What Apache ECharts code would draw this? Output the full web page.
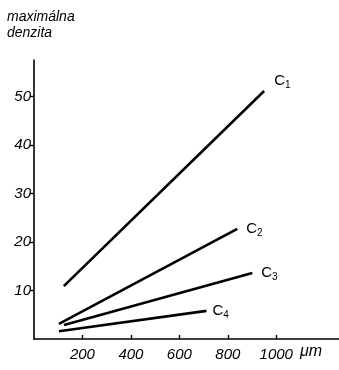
<!DOCTYPE html>
<html>
<head>
<meta charset="utf-8">
<script src="https://cdn.jsdelivr.net/npm/echarts@6/dist/echarts.min.js"></script>
<style>
  html, body { margin: 0; padding: 0; background: #fff; }
  #chart { width: 339px; height: 370px; }
</style>
</head>
<body>
<div id="chart"></div>
<script>
// values (x in µm, y = max. density)
const c1X = [123, 950];
const c1Y = [10.9, 51.1];
const c2X = [103, 839];
const c2Y = [3.1, 22.7];
const c3X = [124, 901];
const c3Y = [2.9, 13.6];
const c4X = [103, 712];
const c4Y = [1.6, 5.8];
const seriesNames = ['1', '2', '3', '4'];
const xTicks = [200, 400, 600, 800, 1000];
const yTicks = [10, 20, 30, 40, 50];

const font = 'Liberation Sans';
const pairs = (xs, ys) => xs.map((x, i) => [x, ys[i]]);

const lineSeries = (name, xs, ys, offset) => ({
  name: 'C' + name,
  type: 'line',
  data: pairs(xs, ys),
  symbol: 'none',
  lineStyle: { color: '#000', width: 2.6 },
  endLabel: {
    show: true,
    offset: offset,
    formatter: '{c|C}{s|' + name + '}',
    rich: {
      c: { fontFamily: font, fontSize: 15, color: '#000' },
      s: { fontFamily: font, fontSize: 10, color: '#000', padding: [8, 0, 0, 0] }
    }
  }
});

let myChart = echarts.init(document.getElementById('chart'));
myChart.setOption({
  animation: false,
  grid: { left: 34, right: 0, top: 60, bottom: 31 },
  xAxis: {
    type: 'value',
    min: 0,
    max: 1259,
    splitLine: { show: false },
    axisLine: { lineStyle: { color: '#000', width: 1.6 } },
    axisTick: { inside: true, length: 4, customValues: xTicks, lineStyle: { color: '#000', width: 1.4 } },
    axisLabel: {
      customValues: xTicks,
      formatter: v => String(v),
      fontFamily: font, fontStyle: 'italic', fontSize: 15, color: '#000', margin: 8
    }
  },
  yAxis: {
    type: 'value',
    min: 0,
    max: 57.5,
    splitLine: { show: false },
    axisLine: { lineStyle: { color: '#000', width: 1.6 } },
    axisTick: { length: 4, customValues: yTicks, lineStyle: { color: '#000', width: 1.4 } },
    axisLabel: {
      customValues: yTicks,
      formatter: v => String(v),
      fontFamily: font, fontStyle: 'italic', fontSize: 15, color: '#000', margin: 3
    }
  },
  graphic: [
    {
      type: 'text', left: 7, top: 9,
      style: { text: 'maximálna\ndenzita', fontFamily: font, fontStyle: 'italic', fontSize: 14, lineHeight: 16, fill: '#000' }
    },
    {
      type: 'text', left: 300, top: 344,
      style: { text: 'μm', fontFamily: font, fontStyle: 'italic', fontSize: 16, fill: '#000' }
    }
  ],
  series: [
    lineSeries(seriesNames[0], c1X, c1Y, [2, -10]),
    lineSeries(seriesNames[1], c2X, c2Y, [1, 0]),
    lineSeries(seriesNames[2], c3X, c3Y, [1, 0]),
    lineSeries(seriesNames[3], c4X, c4Y, [-2, 0])
  ]
});

window.addEventListener('resize', function() {
  myChart.resize();
});
</script>
</body>
</html>
